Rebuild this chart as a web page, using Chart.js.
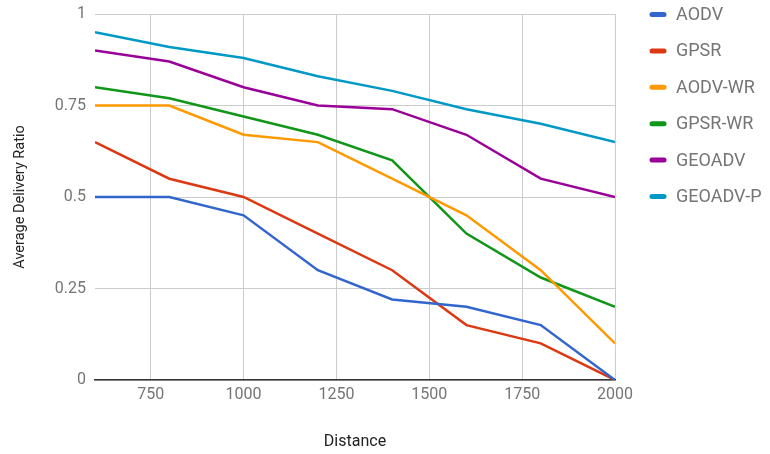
<!DOCTYPE html>
<html>
<head>
<meta charset="utf-8">
<script src="https://cdn.jsdelivr.net/npm/chart.js@4/dist/chart.umd.min.js"></script>
<style>
    html, body { margin: 0; padding: 0; background: #fff; }
    #wrap { width: 770px; height: 454px; position: relative; }
</style>
</head>
<body>
<div id="wrap"><canvas id="deliveryChart"></canvas></div>
<script>
    // distances sampled for every protocol
    const distances = [600, 800, 1000, 1200, 1400, 1600, 1800, 2000];
    const xTicks = [750, 1000, 1250, 1500, 1750, 2000];
    const yTicks = [0, 0.25, 0.5, 0.75, 1];

    const protocols = ['AODV', 'GPSR', 'AODV-WR', 'GPSR-WR', 'GEOADV', 'GEOADV-P'];
    const aodv = [0.5, 0.5, 0.45, 0.3, 0.22, 0.2, 0.15, 0];
    const gpsr = [0.65, 0.55, 0.5, 0.4, 0.3, 0.15, 0.1, 0];
    const aodvWr = [0.75, 0.75, 0.67, 0.65, 0.55, 0.45, 0.3, 0.1];
    const gpsrWr = [0.8, 0.77, 0.72, 0.67, 0.6, 0.4, 0.28, 0.2];
    const geoadv = [0.9, 0.87, 0.8, 0.75, 0.74, 0.67, 0.55, 0.5];
    const geoadvP = [0.95, 0.91, 0.88, 0.83, 0.79, 0.74, 0.7, 0.65];
    const colors = ['#3366cc', '#dc3912', '#ff9900', '#109618', '#990099', '#0099c6'];

    const series = [aodv, gpsr, aodvWr, gpsrWr, geoadv, geoadvP];

    function toPoints(values) {
        return values.map(function (v, i) { return { x: distances[i], y: v }; });
    }

    // legend drawn by hand on the right side
    const sideLegend = {
        id: 'sideLegend',
        afterDraw: function (chart) {
            let ctx = chart.ctx;
            ctx.save();
            ctx.font = '18px Roboto';
            ctx.textBaseline = 'middle';
            chart.data.datasets.forEach(function (ds, i) {
                let y = 14.5 + i * 36.4;
                ctx.strokeStyle = ds.borderColor;
                ctx.lineWidth = 5;
                ctx.lineCap = 'round';
                ctx.beginPath();
                ctx.moveTo(652, y);
                ctx.lineTo(664, y);
                ctx.stroke();
                ctx.fillStyle = '#757575';
                ctx.fillText(ds.label, 676, y + 1);
            });
            ctx.restore();
        }
    };

    window.onload = function () {
        let ctx = document.getElementById('deliveryChart').getContext('2d');
        new Chart(ctx, {
            type: 'line',
            data: {
                datasets: protocols.map(function (name, i) {
                    return {
                        label: name,
                        data: toPoints(series[i]),
                        borderColor: colors[i],
                        backgroundColor: colors[i],
                        borderWidth: 2.5,
                        pointRadius: 0,
                        tension: 0,
                        fill: false
                    };
                })
            },
            options: {
                responsive: true,
                maintainAspectRatio: false,
                animation: false,
                layout: { padding: { top: 14, right: 155, left: 0, bottom: 0 } },
                plugins: {
                    legend: { display: false },
                    tooltip: { enabled: false }
                },
                scales: {
                    x: {
                        type: 'linear',
                        min: 600,
                        max: 2000,
                        afterBuildTicks: function (scale) {
                            scale.ticks = xTicks.map(function (v) { return { value: v }; });
                        },
                        afterFit: function (scale) {
                            scale.height = 74;
                            scale.paddingLeft = 0;
                            scale.paddingRight = 0;
                        },
                        grid: { color: '#cccccc', drawTicks: false },
                        border: { color: '#333333', width: 1.5 },
                        ticks: {
                            padding: 5,
                            color: '#757575',
                            font: { family: 'Roboto', size: 16 },
                            callback: function (v) { return String(v); }
                        },
                        title: {
                            display: true,
                            text: 'Distance',
                            color: '#222222',
                            font: { family: 'Roboto', size: 16 },
                            padding: { top: 20, bottom: 2 }
                        }
                    },
                    y: {
                        min: 0,
                        max: 1,
                        afterBuildTicks: function (scale) {
                            scale.ticks = yTicks.map(function (v) { return { value: v }; });
                        },
                        afterFit: function (scale) {
                            scale.width = 95;
                            scale.paddingTop = 0;
                            scale.paddingBottom = 0;
                        },
                        grid: { color: '#cccccc', drawTicks: false },
                        border: { display: false },
                        ticks: {
                            padding: 9,
                            color: '#757575',
                            font: { family: 'Roboto', size: 16 },
                            callback: function (v) { return String(v); }
                        },
                        title: {
                            display: true,
                            text: 'Average Delivery Ratio',
                            color: '#222222',
                            font: { family: 'Roboto', size: 14.5 },
                            padding: { top: 12, bottom: 0 }
                        }
                    }
                }
            },
            plugins: [sideLegend]
        });
    };
</script>
</body>
</html>
